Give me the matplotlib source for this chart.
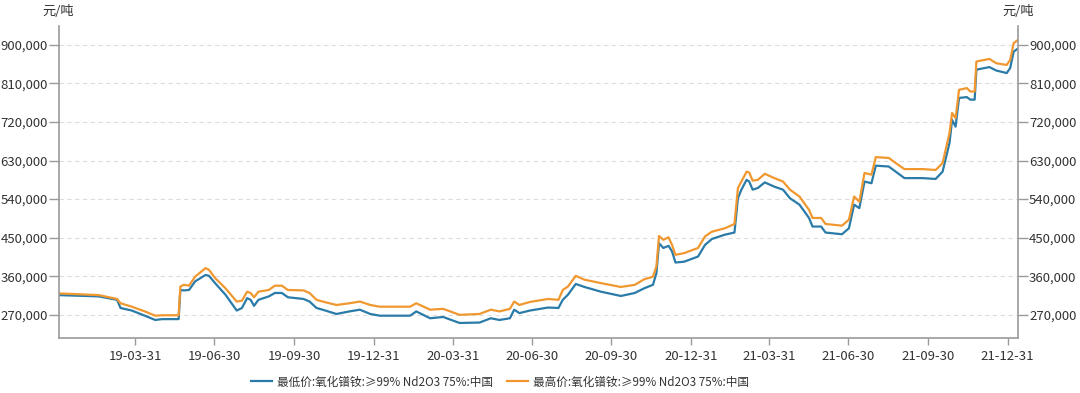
import matplotlib
matplotlib.use("Agg")
import matplotlib.pyplot as plt
import matplotlib.dates as mdates
import matplotlib.ticker as mticker
import pandas as pd

plt.rcParams['font.family'] = ['Noto Sans CJK SC', 'DejaVu Sans']

# Prix de l'oxyde de praséodyme-néodyme (元/吨)
dates = [
    "2019-01-02", "2019-02-17", "2019-03-10", "2019-03-14", "2019-03-27", "2019-04-11",
    "2019-04-23", "2019-05-01", "2019-05-20", "2019-05-22", "2019-05-26", "2019-06-01",
    "2019-06-08", "2019-06-20", "2019-06-24", "2019-07-01", "2019-07-13", "2019-07-26",
    "2019-08-01", "2019-08-07", "2019-08-11", "2019-08-15", "2019-08-20", "2019-09-01",
    "2019-09-08", "2019-09-16", "2019-09-23", "2019-10-11", "2019-10-18", "2019-10-26",
    "2019-11-02", "2019-11-18", "2019-12-03", "2019-12-15", "2019-12-27", "2020-01-07",
    "2020-02-11", "2020-02-18", "2020-03-05", "2020-03-20", "2020-04-08", "2020-05-01",
    "2020-05-14", "2020-05-24", "2020-06-05", "2020-06-10", "2020-06-16", "2020-06-28",
    "2020-07-19", "2020-07-31", "2020-08-05", "2020-08-11", "2020-08-20", "2020-08-30",
    "2020-09-18", "2020-10-11", "2020-10-27", "2020-11-07", "2020-11-17", "2020-11-21",
    "2020-11-24", "2020-11-29", "2020-12-05", "2020-12-09", "2020-12-13", "2020-12-23",
    "2021-01-08", "2021-01-16", "2021-01-24", "2021-02-08", "2021-02-19", "2021-02-23",
    "2021-02-27", "2021-03-05", "2021-03-08", "2021-03-12", "2021-03-18", "2021-03-26",
    "2021-04-06", "2021-04-16", "2021-04-24", "2021-05-05", "2021-05-16", "2021-05-20",
    "2021-05-30", "2021-06-04", "2021-06-23", "2021-07-01", "2021-07-07", "2021-07-13",
    "2021-07-19", "2021-07-27", "2021-08-01", "2021-08-16", "2021-08-24", "2021-09-03",
    "2021-09-24", "2021-10-09", "2021-10-17", "2021-10-25", "2021-10-28", "2021-11-01",
    "2021-11-05", "2021-11-14", "2021-11-18", "2021-11-23", "2021-11-25", "2021-12-10",
    "2021-12-18", "2021-12-30", "2022-01-03", "2022-01-07", "2022-01-11",
]

prix_haut = [
    320000, 316000, 307000, 297000, 289000, 278000,
    268000, 269000, 269000, 336000, 340000, 338000,
    359000, 379000, 375000, 356000, 332000, 301000,
    303000, 324000, 321000, 311000, 324000, 328000,
    338000, 338000, 328000, 327000, 321000, 305000,
    301000, 293000, 297000, 301000, 293000, 289000,
    289000, 297000, 282000, 284000, 270000, 272000,
    282000, 278000, 284000, 301000, 293000, 300000,
    307000, 305000, 328000, 336000, 361000, 352000,
    344000, 335000, 340000, 353000, 359000, 383000,
    454000, 445000, 451000, 433000, 410000, 414000,
    426000, 453000, 464000, 472000, 482000, 566000,
    581000, 604000, 602000, 583000, 585000, 599000,
    589000, 581000, 562000, 546000, 515000, 496000,
    496000, 482000, 478000, 492000, 546000, 534000,
    601000, 597000, 638000, 636000, 624000, 610000,
    610000, 608000, 624000, 694000, 741000, 729000,
    795000, 799000, 791000, 791000, 861000, 867000,
    857000, 853000, 865000, 904000, 910000,
]

prix_bas = [
    316000, 313000, 305000, 286000, 280000, 268000,
    258000, 260000, 260000, 328000, 327000, 328000,
    348000, 363000, 361000, 344000, 317000, 280000,
    286000, 309000, 305000, 291000, 305000, 313000,
    321000, 321000, 311000, 307000, 301000, 286000,
    282000, 272000, 278000, 282000, 272000, 268000,
    268000, 278000, 262000, 265000, 251000, 252000,
    262000, 258000, 262000, 282000, 274000, 280000,
    287000, 286000, 305000, 317000, 342000, 335000,
    324000, 314000, 321000, 332000, 340000, 367000,
    437000, 426000, 431000, 418000, 392000, 394000,
    406000, 433000, 447000, 457000, 462000, 542000,
    562000, 585000, 581000, 562000, 566000, 579000,
    569000, 562000, 542000, 527000, 496000, 476000,
    476000, 462000, 458000, 472000, 527000, 519000,
    581000, 577000, 618000, 616000, 604000, 589000,
    589000, 587000, 604000, 671000, 725000, 709000,
    776000, 778000, 772000, 772000, 842000, 848000,
    840000, 834000, 846000, 884000, 890000,
]

noms = [
    "最低价:氧化镨钕:≥99% Nd2O3 75%:中国",
    "最高价:氧化镨钕:≥99% Nd2O3 75%:中国",
]
yticks = [270000, 360000, 450000, 540000, 630000, 720000, 810000, 900000]
xticks = ["2019-03-31", "2019-06-30", "2019-09-30", "2019-12-31", "2020-03-31", "2020-06-30",
          "2020-09-30", "2020-12-31", "2021-03-31", "2021-06-30", "2021-09-30", "2021-12-31"]

df = pd.DataFrame({"date": pd.to_datetime(dates), "bas": prix_bas, "haut": prix_haut})

gris = "#9a9a9a"
texte = "#333333"

fig = plt.figure(figsize=(10.8, 3.93), dpi=100)
ax = fig.add_axes([0.0546, 0.140, 0.888, 0.794])

l1, = ax.plot(df["date"], df["bas"], color="#2b7ba8", lw=1.6)
l2, = ax.plot(df["date"], df["haut"], color="#f0982f", lw=1.6)

ax.set_xlim(pd.Timestamp("2019-01-02"), pd.Timestamp("2022-01-12"))
ax.set_ylim(216000, 944000)

ax.set_yticks(yticks)
ax.yaxis.set_major_formatter(mticker.FuncFormatter(lambda v, p: f"{int(v):,}"))
ax.set_xticks(pd.to_datetime(xticks))
ax.xaxis.set_major_formatter(mdates.DateFormatter("%y-%m-%d"))

ax.grid(axis="y", color="#dddddd", linestyle=(0, (4, 3)), lw=0.8)
ax.set_axisbelow(True)

ax.spines["top"].set_visible(False)
for s in ["left", "right", "bottom"]:
    ax.spines[s].set_color(gris)
    ax.spines[s].set_linewidth(1.2)

ax.tick_params(axis="y", which="both", left=True, right=True, labelleft=True, labelright=True,
               length=7, width=1, color=gris, labelcolor=texte, labelsize=9.5, pad=1)
ax.tick_params(axis="x", length=5, width=1, color=gris, labelcolor=texte, labelsize=9.5, pad=4)

fig.text(0.054, 0.972, "元/吨", fontsize=9.5, color=texte, ha="center", va="center")
fig.text(0.943, 0.972, "元/吨", fontsize=9.5, color=texte, ha="center", va="center")

fig.legend([l1, l2], noms, loc="center", bbox_to_anchor=(0.463, 0.028), ncol=2, frameon=False,
           fontsize=8.4, handlelength=1.8, handletextpad=0.4, columnspacing=1.2,
           labelcolor=texte)

fig.savefig("out.png", dpi=100)
